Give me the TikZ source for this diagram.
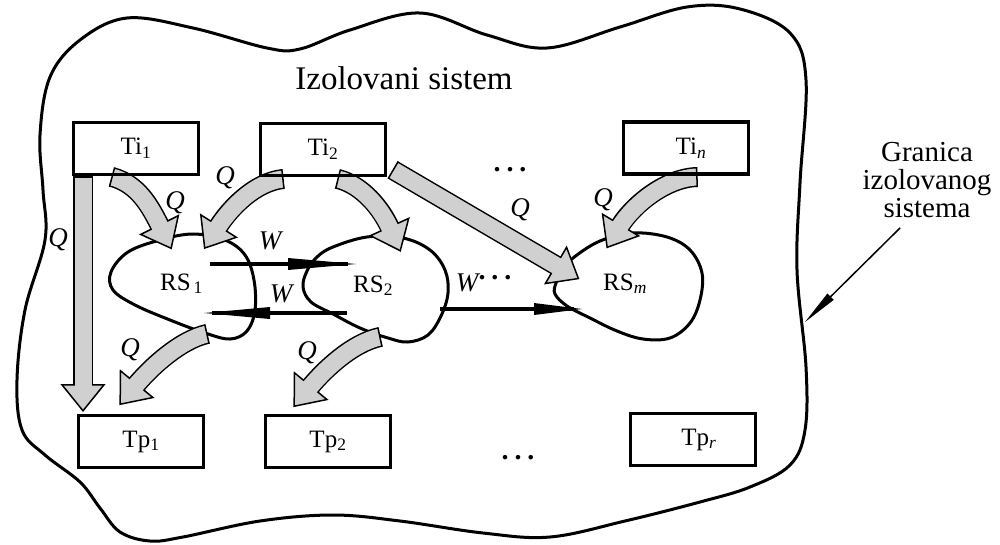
\documentclass[tikz,border=0pt]{standalone}
\usepackage{fontspec}
\setmainfont{Liberation Serif}
\usetikzlibrary{arrows.meta,decorations.markings,calc}
\definecolor{qgray}{RGB}{208,208,208}
\newcommand\blockarr[1]{%
  \draw[line width=20pt] #1;
  \path[decorate, decoration={markings, mark=at position 0.999 with {\draw[line width=1.5pt, fill=qgray] (-1pt,-21pt) -- (25pt,0pt) -- (-1pt,21pt) -- cycle;}}] #1;
  \draw[line width=17pt, qgray, shorten >=-2.5pt] #1;
  \path[decorate, decoration={markings, mark=at position 0.001 with {\draw[line width=1.5pt] (0pt,-10pt) -- (0pt,10pt);}}] #1;
}
\begin{document}
\begin{tikzpicture}[x=1pt,y=-1pt,
  box/.style={draw, line width=3.5pt, minimum width=125pt, minimum height=52pt, inner sep=0pt, font=\fontsize{25}{27}\selectfont},
  lbl/.style={inner sep=0pt, font=\fontsize{25}{27}\selectfont},
  qlbl/.style={inner sep=0pt, font=\fontsize{27}{29}\selectfont\itshape},
  dotsl/.style={inner sep=0pt, font=\fontsize{28}{30}\selectfont\bfseries},
  blob/.style={line width=3pt},
  wline/.style={line width=3.5pt},
]
\useasboundingbox (0,0) rectangle (1000,544);

% system boundary
\draw[line width=3pt] plot[smooth cycle, tension=0.6] coordinates {
 (40,135) (50,77) (80,40) (127,18) (193,28) (267,48) (300,49) (350,30) (420,13)
 (487,35) (547,48) (620,27) (687,7) (740,9) (790,33) (806,80) (800,183) (797,270)
 (806,367) (805,430) (790,465) (750,487) (700,502) (625,521) (550,537) (483,533)
 (400,521) (333,515) (260,521) (183,537) (150,541) (120,532) (100,508) (80,482)
 (45,455) (22,430) (17,380) (25,310) (45,240) (43,190)};

\node[font=\fontsize{33}{36}\selectfont, inner sep=0pt] (title) at (404,78) {Izolovani sistem};

% reacting systems
\draw[blob] plot[smooth cycle, tension=0.6] coordinates {
 (193,234) (160,240) (128,252) (111,272) (113,290) (135,305) (170,320) (205,333)
 (230,339) (247,331) (255,310) (254,280) (245,255) (225,240)};
\draw[blob] plot[smooth cycle, tension=0.6] coordinates {
 (333,247) (367,237) (403,238) (430,250) (445,270) (448,293) (441,316) (428,335)
 (408,342) (388,338) (360,328) (333,314) (311,302) (303,287) (307,271) (317,257)};
\draw[blob] plot[smooth cycle, tension=0.6] coordinates {
 (573,258) (600,241) (633,233) (667,237) (690,250) (702,273) (700,300) (690,323)
 (670,338) (643,339) (617,331) (590,318) (567,306) (555,294) (556,283) (563,270)};
\node[lbl, anchor=base west] (rs1) at (160,290) {RS\textsubscript{\,1}};
\node[lbl, anchor=base west] (rs2) at (353,292) {RS\textsubscript{2}};
\node[lbl, anchor=base west] (rsm) at (603,290) {RS\textsubscript{\textit{m}}};

% heat arrows
\coordinate (a0s) at (83,177);  \coordinate (a0e) at (83,386);
\coordinate (a1s) at (112,177); \coordinate (a1e) at (160,226);
\coordinate (a2s) at (283,179); \coordinate (a2e) at (218,227);
\coordinate (a3s) at (338,179); \coordinate (a3e) at (390,228);
\coordinate (a4s) at (393,170); \coordinate (a4e) at (557,266);
\coordinate (a5s) at (697,177); \coordinate (a5e) at (620,226);
\coordinate (a6s) at (207,334); \coordinate (a6e) at (136,385);
\coordinate (a7s) at (380,337); \coordinate (a7e) at (310,387);

\blockarr{(a0s) -- (a0e)}
\blockarr{(a1s) .. controls (138,184) and (150,206) .. (a1e)}
\blockarr{(a2s) .. controls (255,182) and (230,208) .. (a2e)}
\blockarr{(a3s) .. controls (362,185) and (381,208) .. (a3e)}
\blockarr{(a4s) -- (a4e)}
\blockarr{(a5s) .. controls (665,178) and (632,206) .. (a5e)}
\blockarr{(a6s) .. controls (180,340) and (150,368) .. (a6e)}
\blockarr{(a7s) .. controls (352,343) and (324,370) .. (a7e)}

% boxes
\node[box] (ti1) at (136,148.5) {Ti\textsubscript{1}};
\node[box] (ti2) at (323,149.5) {Ti\textsubscript{2}};
\node[box] (tin) at (686,148) {\hspace{10pt}Ti\textsubscript{\textit{n}}};
\node[box] (tp1) at (141,441.5) {Tp\textsubscript{1}};
\node[box] (tp2) at (328,441.5) {Tp\textsubscript{2}};
\node[box] (tpr) at (693,439.5) {\hspace{12pt}Tp\textsubscript{\textit{r}}};

% work arrows (line + long narrow wedge head)
\coordinate (w1s) at (210,264); \coordinate (w1e) at (356,264);
\coordinate (w2s) at (347,313); \coordinate (w2e) at (204,313);
\coordinate (w3s) at (440,309); \coordinate (w3e) at (582,309);
\draw[wline] (w1s) -- ($(w1e)+(-8,0)$);
\fill ($(w1e)+(-68,-6)$) -- (w1e) -- ($(w1e)+(-68,6)$) -- cycle;
\draw[wline] (w2s) -- ($(w2e)+(8,0)$);
\fill ($(w2e)+(66,-6)$) -- (w2e) -- ($(w2e)+(66,6)$) -- cycle;
\draw[wline] (w3s) -- ($(w3e)+(-8,0)$);
\fill ($(w3e)+(-48,-6)$) -- (w3e) -- ($(w3e)+(-48,6)$) -- cycle;

% labels
\node[qlbl] (q0) at (58,240) {Q};
\node[qlbl] (q1) at (175,203) {Q};
\node[qlbl] (q2) at (225,178) {Q};
\node[qlbl] (q4) at (520,210) {Q};
\node[qlbl] (q5) at (603,200) {Q};
\node[qlbl] (q6) at (130,350) {Q};
\node[qlbl] (q7) at (307,353) {Q};
\node[qlbl] (w1) at (270,241) {W};
\node[qlbl] (w2) at (281,294) {W};
\node[qlbl] (w3) at (467,283) {W};
\node[dotsl] (d3) at (495,278) {.\hspace{6pt}.\hspace{6pt}.};
\node[dotsl] (d1) at (510,170) {.\hspace{6pt}.\hspace{6pt}.};
\node[dotsl] (d2) at (518,458) {.\hspace{6pt}.\hspace{6pt}.};

% boundary label
\node[align=center, inner sep=0pt, font=\fontsize{29}{28}\selectfont] (gr) at (927,180) {Granica\\izolovanog\\sistema};
\coordinate (ps) at (900,228);
\coordinate (pb) at (805,322);
\draw[line width=1.5pt] (ps) -- ($(pb)!0.2!(ps)$);
\fill ($(pb)!36pt!(ps)!4.5pt!90:(pb)$) -- (pb) -- ($(pb)!36pt!(ps)!4.5pt!-90:(pb)$) -- cycle;
\end{tikzpicture}
\end{document}
